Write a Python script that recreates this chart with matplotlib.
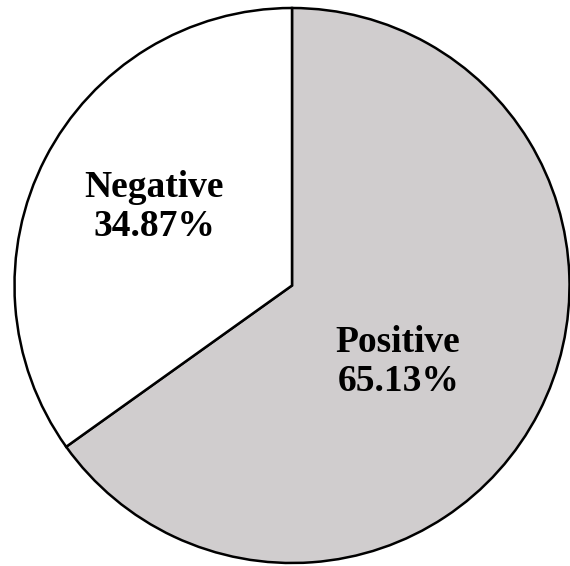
import numpy as np
import matplotlib.pyplot as plt

labels = ['Positive', 'Negative']
shares = [65.13, 34.87]
colors = ['#d0cdce', '#ffffff']

fig = plt.figure(figsize=(5.70, 5.66), dpi=100)
ax = fig.add_axes([14/570, 3/566, 556/570, 555/566])

wedges, _ = ax.pie(shares, colors=colors, startangle=90, counterclock=False,
                   radius=1, wedgeprops=dict(edgecolor='black', linewidth=1.8))

# label placement (radius, angle shift in deg) for each wedge
place = [(0.471, -8.4), (0.572, -2.3)]
for w, lab, val, (r, shift) in zip(wedges, labels, shares, place):
    mid = np.deg2rad((w.theta1 + w.theta2) / 2 + shift)
    ax.text(r * np.cos(mid), r * np.sin(mid), f'{lab}\n{val:.2f}%',
            ha='center', va='center', fontsize=27, fontweight='bold',
            family='Liberation Serif', linespacing=1.15)

ax.set_xlim(-1, 1)
ax.set_ylim(-1, 1)
ax.set_aspect('equal')
ax.axis('off')
fig.savefig('out.png', dpi=100)
